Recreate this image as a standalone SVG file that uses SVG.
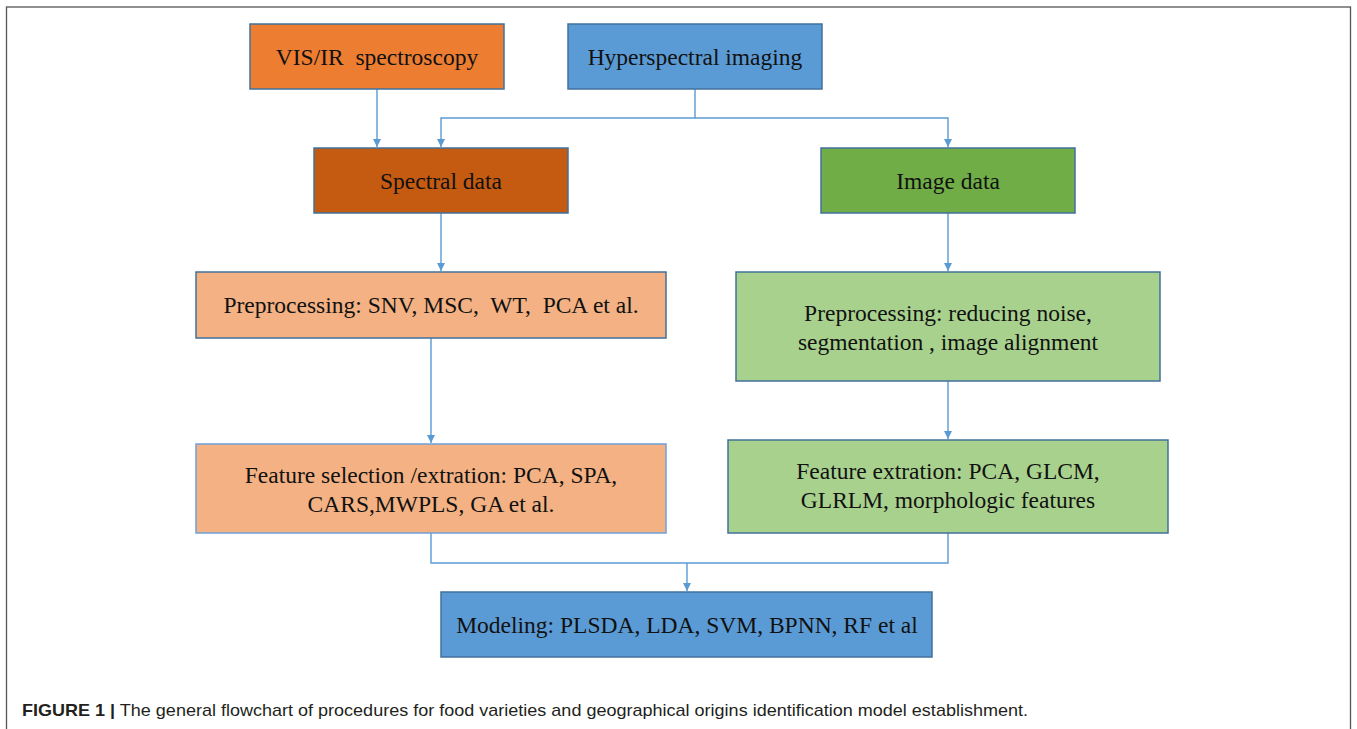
<svg xmlns="http://www.w3.org/2000/svg" width="1357" height="729" viewBox="0 0 1357 729">
<style>
.node{stroke:#41719C;stroke-width:1.5}
.lt{stroke:#6FA0D8;stroke-width:1.5}
.t{font-family:"Liberation Serif","Times New Roman",serif;font-size:23.5px;fill:#111;text-anchor:middle;white-space:pre}
.c{fill:none;stroke:#5B9BD5;stroke-width:1.4}
.cap{font-family:"Liberation Sans",Arial,sans-serif;font-size:17px;fill:#231F20}
</style>
<defs>
<marker id="ah" viewBox="0 0 10 10" refX="10" refY="5" markerWidth="8" markerHeight="8" markerUnits="userSpaceOnUse" orient="auto">
<path d="M0,0 L10,5 L0,10 z" fill="#5B9BD5"/>
</marker>
</defs>
<rect x="0" y="0" width="1357" height="729" fill="#fff"/>
<rect x="6.5" y="7" width="1344" height="730" fill="none" stroke="#555" stroke-width="1.3"/>

<g id="connectors">
<path class="c" d="M377,89 V147" marker-end="url(#ah)"/>
<path class="c" d="M695,89 V118 H441 V147" marker-end="url(#ah)"/>
<path class="c" d="M695,118 H948 V147" marker-end="url(#ah)"/>
<path class="c" d="M441,213 V271" marker-end="url(#ah)"/>
<path class="c" d="M431,338 V443" marker-end="url(#ah)"/>
<path class="c" d="M948,213 V271" marker-end="url(#ah)"/>
<path class="c" d="M948,381 V439" marker-end="url(#ah)"/>
<path class="c" d="M431,533 V563 H948 V533"/>
<path class="c" d="M687,563 V591" marker-end="url(#ah)"/>
</g>

<g id="vis">
<rect class="node" x="250" y="24" width="254" height="65" fill="#ED7D31"/>
<text class="t" x="377" y="65">VIS/IR  spectroscopy</text>
</g>
<g id="hyper">
<rect class="node" x="568" y="24" width="254" height="65" fill="#5B9BD5"/>
<text class="t" x="695" y="65">Hyperspectral imaging</text>
</g>
<g id="spectral">
<rect class="node" x="314" y="148" width="254" height="65" fill="#C55A11"/>
<text class="t" x="441" y="189">Spectral data</text>
</g>
<g id="image">
<rect class="node" x="821" y="148" width="254" height="65" fill="#70AD47"/>
<text class="t" x="948" y="189">Image data</text>
</g>
<g id="prep-spec">
<rect class="node" x="196" y="272" width="470" height="66" fill="#F4B183" stroke="#4A82C8"/>
<text class="t" x="431" y="313">Preprocessing: SNV, MSC,  WT,  PCA et al.</text>
</g>
<g id="prep-img">
<rect class="node" x="736" y="272" width="424" height="109" fill="#A9D18E" stroke="#4A82C8"/>
<text class="t" x="948" y="321">Preprocessing: reducing noise,</text>
<text class="t" x="948" y="350">segmentation , image alignment</text>
</g>
<g id="feat-spec">
<rect class="lt" x="196" y="444" width="470" height="89" fill="#F4B183"/>
<text class="t" x="431" y="483">Feature selection /extration: PCA, SPA,</text>
<text class="t" x="431" y="512">CARS,MWPLS, GA et al.</text>
</g>
<g id="feat-img">
<rect class="node" x="728" y="440" width="440" height="93" fill="#A9D18E" stroke="#4A82C8"/>
<text class="t" x="948" y="479">Feature extration: PCA, GLCM,</text>
<text class="t" x="948" y="508">GLRLM, morphologic features</text>
</g>
<g id="model">
<rect class="node" x="441" y="592" width="491" height="65" fill="#5B9BD5"/>
<text class="t" x="687" y="633">Modeling: PLSDA, LDA, SVM, BPNN, RF et al</text>
</g>

<text class="cap" x="22" y="716" textLength="1006" lengthAdjust="spacingAndGlyphs"><tspan font-weight="bold">FIGURE 1 |</tspan> The general flowchart of procedures for food varieties and geographical origins identification model establishment.</text>
</svg>
